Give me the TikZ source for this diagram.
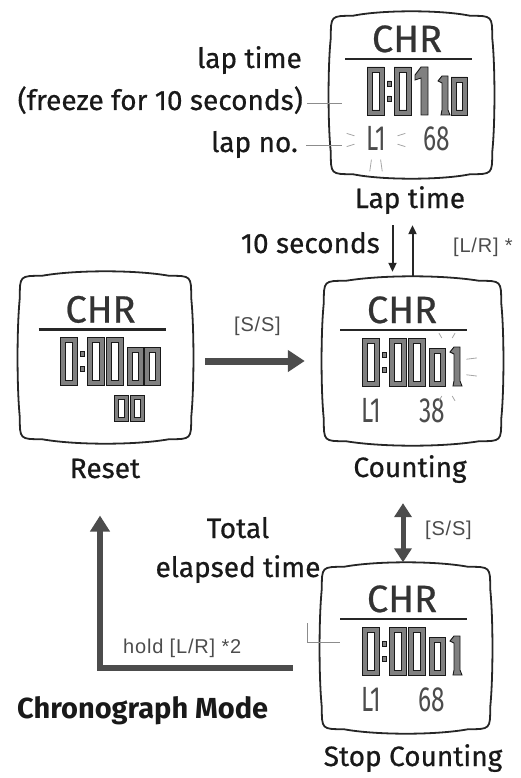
\documentclass[tikz,border=0pt]{standalone}
\usepackage{fontspec}
\setmainfont{Fira Sans}[UprightFeatures={FakeBold=0.6}]
\newfontfamily\keyfont{Liberation Sans}[LetterSpace=4]
\newfontfamily\lcdfont{Fira Sans}[FakeStretch=0.7]
\usetikzlibrary{arrows.meta}

\begin{document}
\begin{tikzpicture}[x=1pt, y=-1pt,
    screenbox/.style={inner sep=0pt},
    frame/.style={draw=black!85, line width=1.8pt},
    seg/.style={draw=black!90, fill=black!50, line width=0.9pt, even odd rule},
    bar/.style={draw=black!85, line width=2.6pt},
    chr/.style={font=\fontsize{38}{40}\selectfont, text=black!80, inner sep=0pt, anchor=base},
    lcdtxt/.style={font=\lcdfont\fontsize{35}{37}\selectfont, text=black!70, inner sep=0pt, anchor=base},
    blink/.style={draw=black!35, line width=0.8pt},
    leader/.style={draw=black!45, line width=0.8pt},
    lbl/.style={font=\fontsize{28}{30}\selectfont, text=black!90, inner sep=0pt},
    keylbl/.style={font=\keyfont\fontsize{20}{22}\selectfont, text=black!70, inner sep=0pt},
    bigarrow/.style={draw=black!70, line width=7pt, -{Triangle[length=17pt,width=21pt]}},
    thinarrow/.style={draw=black!85, line width=2pt, -{Triangle[length=9pt,width=8pt]}}]
\useasboundingbox (0,0) rectangle (521,778);

% watch case outline round a screen node
\def\lcdframe#1{
    \draw[frame] ([shift={(0,22)}]#1.north west)
        .. controls (#1.north west) .. ([shift={(22,0)}]#1.north west)
        .. controls ([shift={(-30,-6)}]#1.north) and ([shift={(30,-6)}]#1.north) .. ([shift={(-22,0)}]#1.north east)
        .. controls (#1.north east) .. ([shift={(0,22)}]#1.north east)
        .. controls ([shift={(3,-30)}]#1.east) and ([shift={(3,30)}]#1.east) .. ([shift={(0,-22)}]#1.south east)
        .. controls (#1.south east) .. ([shift={(-22,0)}]#1.south east)
        .. controls ([shift={(30,6)}]#1.south) and ([shift={(-30,6)}]#1.south) .. ([shift={(22,0)}]#1.south west)
        .. controls (#1.south west) .. ([shift={(0,-22)}]#1.south west)
        .. controls ([shift={(-3,30)}]#1.west) and ([shift={(-3,-30)}]#1.west) .. cycle;
}
% segment digits, x = left edge
\def\bigzero#1{\path[seg] (#1,-20) rectangle ++(17,48) (#1+5,-15) rectangle ++(7,38);}
\def\bigone#1{\path[seg] (#1+2,-12) -- (#1+8,-20) -- (#1+15,-20) -- (#1+15,28) -- (#1+8,28) -- (#1+8,-9) -- (#1+2,-7) -- cycle;}
\def\smallzero#1{\path[seg] (#1,-10) rectangle ++(16,38) (#1+5,-5) rectangle ++(6,28);}
\def\smallone#1{\path[seg] (#1+4,-6) -- (#1+8,-11) -- (#1+14,-11) -- (#1+14,23) -- (#1+16,28) -- (#1+7,28) -- (#1+8,23) -- (#1+8,-4) -- cycle;}
\def\tinyzero#1{\path[seg] (#1,38) rectangle ++(14,26) (#1+4,42) rectangle ++(6,18);}
\def\lcdcolon{\path[seg] (-25,-6) rectangle ++(4,5) (-25,9) rectangle ++(4,5);}
\def\lcdhead#1{
    \node[chr] (#1chr) at (-5,-35) {CHR};
    \draw[bar] (-67,-28) -- (60,-28);
    \bigzero{-45} \lcdcolon \bigzero{-18}
}

% screens
\node[screenbox, minimum width=161pt, minimum height=158pt] (lap) at (411.5,95) {};
\node[screenbox, minimum width=171pt, minimum height=163pt] (reset) at (105.5,357.5) {};
\node[screenbox, minimum width=177pt, minimum height=160pt] (counting) at (412.5,361) {};
\node[screenbox, minimum width=168pt, minimum height=162pt] (stopc) at (406,648) {};
\lcdframe{lap}
\lcdframe{reset}
\lcdframe{counting}
\lcdframe{stopc}

% lap time face
\begin{scope}[shift={(412,87)}]
    \lcdhead{lap}
    \bigone{1}
    \smallone{22} \smallzero{39}
    \node[lcdtxt] (lapl) at (-36,64) {L1};
    \node[lcdtxt] (lapv) at (25,64) {68};
    \begin{scope}[shift={(-36,53)}]
        \foreach \a in {12,-12,168,192,78,102}
            \draw[blink] (\a:22 and 20) -- (\a:30 and 32);
    \end{scope}
\end{scope}

% reset face
\begin{scope}[shift={(105.5,357.5)}]
    \lcdhead{rst}
    \bigzero{1}
    \smallzero{22} \smallzero{39}
    \tinyzero{9} \tinyzero{25}
\end{scope}

% counting face
\begin{scope}[shift={(407,358)}]
    \lcdhead{cnt}
    \bigzero{1}
    \smallzero{22} \smallone{39}
    \node[lcdtxt] (cntl) at (-36,64) {L1};
    \node[lcdtxt] (cntv) at (25,64) {38};
    \begin{scope}[shift={(40,9)}]
        \foreach \a in {15,-15,75,105,-75,-105}
            \draw[blink] (\a:20 and 30) -- (\a:31 and 35);
    \end{scope}
\end{scope}

% stop counting face
\begin{scope}[shift={(407,647)}]
    \lcdhead{stop}
    \bigzero{1}
    \smallzero{22} \smallone{39}
    \node[lcdtxt] (stopl) at (-36,64) {L1};
    \node[lcdtxt] (stopv) at (25,64) {68};
\end{scope}

% screen captions
\node[lbl, anchor=base] (laplbl) at (410,208) {Lap time};
\node[lbl, anchor=base] (rstlbl) at (105,478) {Reset};
\node[lbl, anchor=base] (cntlbl) at (410,477) {Counting};
\node[lbl, anchor=base] (stoplbl) at (413,766) {Stop Counting};

% callouts on the lap screen
\node[lbl, anchor=base east] (laptime) at (302,68) {lap time};
\node[lbl, anchor=base east] (freeze) at (303,110) {(freeze for 10 seconds)};
\node[lbl, anchor=base east] (lapno) at (298,152) {lap no.};
\coordinate (freezetip) at (342,103);
\coordinate (lapnotip) at (342,145);
\draw[leader, shorten <=4pt] (freezetip -| freeze.east) -- (freezetip);
\draw[leader, shorten <=8pt] (lapnotip -| lapno.east) -- (lapnotip);

% lap <-> counting
\coordinate (dn) at ([xshift=-20pt]counting.north);
\coordinate (up) at (counting.north);
\draw[thinarrow, shorten <=11pt, shorten >=9pt] (dn |- laplbl.south) -- (dn);
\draw[thinarrow, shorten <=4.5pt, shorten >=11pt] (up) -- (up |- laplbl.south);
\node[lbl, anchor=base east] (tensec) at (380,253) {10 seconds};
\node[keylbl, anchor=base west] (lrkey) at (453,252) {[L/R] *};

% reset -> counting
\draw[bigarrow, shorten <=14pt, shorten >=19pt] (reset.east |- counting.west) -- (counting.west)
    node[keylbl, midway, above=22pt] (ssa) {[S/S]};

% counting <-> stop counting
\coordinate (sstop) at ([xshift=-3pt]stopc.north);
\draw[draw=black!70, line width=5pt, {Triangle[length=14pt,width=17pt]}-{Triangle[length=14pt,width=17pt]},
    shorten <=20pt, shorten >=4.5pt] (sstop |- cntlbl.south) -- (sstop);
\node[keylbl, anchor=base west] (ssb) at (425,535) {[S/S]};

% stop counting -> reset
\draw[bigarrow, line width=6pt, -{Triangle[length=16pt,width=19pt]}, shorten <=29pt, shorten >=37pt]
    ([shift={(0,20)}]stopc.west) -| ([xshift=-5pt]rstlbl.south);
\node[keylbl, anchor=base west] (holdkey) at (123,653) {hold [L/R] *2};
\node[lbl, anchor=base] (total) at (238,538) {Total};
\node[lbl, anchor=base] (elapsed) at (238,577) {elapsed time};
\coordinate (stopmark) at (307,623);
\coordinate (stoptip) at (340,642);
\draw[leader] (stopmark) |- (stoptip);

\node[lbl, font=\bfseries\fontsize{29}{31}\selectfont, anchor=base west] (mode) at (17,718) {Chronograph Mode};
\end{tikzpicture}
\end{document}
